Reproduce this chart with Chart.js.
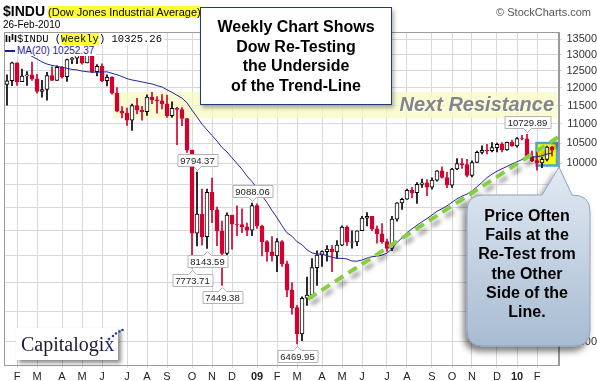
<!DOCTYPE html>
<html>
<head>
<meta charset="utf-8">
<script src="https://cdn.jsdelivr.net/npm/chart.js@4.4.1/dist/chart.umd.min.js"></script>
<style>
body { margin: 0; background: #fff; }
#wrap { position: relative; width: 597px; height: 381px; overflow: hidden; font-family: Arial, "Liberation Sans", sans-serif; }
#charts { position: absolute; left: 0; top: 0; }
.abs { position: absolute; white-space: nowrap; }
#sym { left: 3px; top: 3px; font-size: 11px; color: #000; }
#sym b { font-size: 14px; }
#sym span { background: #ffff33; }
#date { left: 3px; top: 19px; font-size: 10px; color: #000; }
#copy { right: 6px; top: 6px; font-size: 11px; color: #555; }
#leg1 { left: 5px; top: 33px; font: 10.5px "Liberation Mono", monospace; background: #fff; padding-right: 2px; line-height: 12px; }
#leg1 span { background: #ffff33; }
#leg2 { left: 5px; top: 45px; font-size: 10px; color: #1e1e9a; background: #fff; line-height: 11px; padding-right: 2px; }
#leg2 i { display: inline-block; width: 10px; height: 2px; background: #1e1e9a; vertical-align: middle; margin-right: 2px; }
#note { left: 200px; top: 7px; width: 192px; height: 98px; box-sizing: border-box; background: #fff; border: 1px solid #1e3b78; box-shadow: 2px 3px 4px rgba(0,0,0,0.3); font-weight: bold; font-size: 16px; text-align: center; line-height: 19.5px; padding-top: 9px; }
#callout { position: absolute; left: 0; top: 0; }
#calltext { left: 466px; top: 206px; width: 122px; text-align: center; font-weight: bold; font-size: 16px; line-height: 19.2px; color: #000; }
#logo { left: 16px; top: 328px; width: 102px; height: 32px; background: #fff; box-shadow: 3px 3px 4px rgba(0,0,0,0.45); font: 20px "Liberation Serif", "Times New Roman", serif; color: #1c1c2c; line-height: 32px; padding-left: 5px; box-sizing: border-box; }
#logo span { color: #1d2c6e; }
</style>
</head>
<body>
<div id="wrap">
<canvas id="charts" width="597" height="381"></canvas>
<div class="abs" id="sym"><b>$INDU</b> <span>(Dow Jones Industrial Average)</span></div>
<div class="abs" id="date">26-Feb-2010</div>
<div class="abs" id="copy">&copy; StockCharts.com</div>
<div class="abs" id="leg1"><svg width="12" height="9" style="vertical-align:-1px"><path d="M1.5 1v7M4.5 2v6M7.5 0v6M10.5 1v7" stroke="#000" stroke-width="1.6"/></svg>$INDU (<span>Weekly</span>) 10325.26</div>
<div class="abs" id="leg2"><i></i>MA(20) 10252.37</div>
<div class="abs" id="note">Weekly Chart Shows<br>Dow Re-Testing<br>the Underside<br>of the Trend-Line</div>
<svg id="callout" width="597" height="381">
  <defs>
    <linearGradient id="cg" x1="0" y1="0" x2="0" y2="1">
      <stop offset="0" stop-color="#e2eaf3"/>
      <stop offset="1" stop-color="#a7bbd1"/>
    </linearGradient>
    <filter id="csh" x="-30%" y="-20%" width="160%" height="150%">
      <feDropShadow dx="-3" dy="5" stdDeviation="3" flood-color="#000" flood-opacity="0.5"/>
    </filter>
  </defs>
  <path d="M483 195 H542 L559 167 L572 195 Q590 195 590 211 V330 Q590 346 574 346 H483 Q467 346 467 330 V211 Q467 195 483 195 Z" fill="url(#cg)" stroke="#8ea3bb" filter="url(#csh)"/>
</svg>
<div class="abs" id="calltext">Price Often<br>Fails at the<br>Re-Test from<br>the Other<br>Side of the<br>Line.</div>
<div class="abs" id="logo">Capitalogi<span>x</span><svg width="20" height="14" style="position:absolute;left:88px;top:0px"><circle cx="5" cy="11" r="1.3" fill="#2a3f9a"/><circle cx="9" cy="8" r="1.3" fill="#2a3f9a"/><circle cx="12" cy="5.5" r="1.3" fill="#2a3f9a"/><circle cx="15.5" cy="3.5" r="1.3" fill="#2a3f9a"/><circle cx="18.5" cy="2" r="1.3" fill="#2a3f9a"/></svg></div>
</div>
<script>
// weekly candles, Jan 25 2008 .. Feb 26 2010 (index = week number)
const opens = [12099,12207,12743,12182,12348,12381,12266,11894,11951,12361,12216,12609,12325,12849,12891,13058,12745,12986,12480,12638,12209,12307,11843,11346,11288,11100,11497,11370,11326,11734,11659,11628,11543,11220,11421,11388,11143,10325,8451,8852,8378,9325,8943,8497,8046,8829,8635,8629,8579,8515,9034,8599,8281,8077,8001,8280,7850,7366,7063,6627,7224,7279,7776,8018,8083,8131,8076,8212,8575,8268,8277,8500,8764,8799,8539,8438,8280,8146,8743,9093,9172,9370,9321,9505,9544,9441,9605,9820,9665,9488,9865,9996,9972,9713,10023,10270,10318,10310,10389,10471,10329,10520,10428,10618,10610,10173,10067,10013,10099,10402]
const highs = [12379,12767,12743,12552,12479,12767,12398,12219,12458,12622,12654,12641,12862,12917,13136,13090,13028,13028,12694,12712,12382,12330,12004,11470,11425,11541,11698,11475,11800,11867,11750,11808,11790,11600,11450,11440,11143,10325,9794.37,9400,9400,9654,9000,8700,8876,8829,9026,8960,8660,9088.06,9070,8620,8300,8380,8341,8300,7900,7500,7100,7250,7600,7950,8100,8100,8200,8200,8300,8600,8600,8500,8500,8800,8880,8800,8600,8650,8330,8800,9100,9200,9400,9440,9550,9630,9620,9660,9830,9917,9790,9880,10120,10120,10100,10060,10300,10435,10470,10516,10500,10516,10525,10580,10640,10700,10729.89,10300,10300,10150,10430,10420]
const lows = [11508,12060,12072,12181,12070,12216,11847,11731,11651,12216,12216,12285,12190,12720,12720,12705,12745,12450,12350,12182,12055,11820,11320,11158,10962,10827,11271,11100,11226,11550,11290,11405,11170,11170,10460,10950,10266,7773.71,8197,8210,8143.59,8670,8200,7449.38,8010,8130,8400,8460,8400,8400,8550,8000,7900,7900,7700,7800,7250,6950,6469.95,6520,7100,7230,7450,7800,7900,7700,7950,8200,8200,8150,8200,8500,8600,8500,8250,8250,8087,8100,8700,8950,9170,9200,9080,9440,9250,9400,9580,9650,9430,9440,9850,9880,9680,9680,10020,10230,10230,10280,10280,10280,10320,10420,10402,10580,10150,10040,9836,9900,10060,10180]
const closes = [12207,12743,12182,12348,12381,12266,11894,11951,12361,12216,12609,12325,12849,12891,13058,12745,12986,12480,12638,12209,12307,11843,11346,11288,11100,11497,11370,11326,11734,11659,11628,11543,11220,11421,11388,11143,10325,8451,8852,8378,9325,8943,8497,8046,8829,8635,8629,8579,8515,9034,8599,8281,8077,8001,8280,7850,7366,7063,6627,7224,7279,7776,8018,8083,8131,8076,8212,8575,8268,8277,8500,8764,8799,8539,8438,8280,8146,8743,9093,9172,9370,9321,9505,9544,9441,9605,9820,9665,9488,9865,9996,9972,9713,10023,10270,10318,10310,10389,10471,10329,10520,10428,10618,10610,10173,10067,10013,10099,10402,10325.26]
const ma20 = [13315,13280,13198,13121,13037,12945,12864,12771,12709,12668,12640,12607,12581,12544,12530,12495,12476,12460,12461,12467,12472,12427,12385,12332,12268,12230,12203,12172,12141,12113,12064,12025,11943,11870,11786,11706,11573,11372,11183,10991,10842,10697,10554,10392,10279,10136,9999,9861,9700,9569,9418,9255,9097,8926,8771,8606,8458,8389,8278,8220,8118,8059,8035,8037,8002,7974,7954,7953,7941,7903,7898,7922,7958,7985,7993,8015,8054,8138,8261,8358,8463,8540,8615,8688,8753,8830,8910,8965,9026,9105,9180,9240,9286,9360,9452,9554,9662,9744,9813,9871,9928,9984,10039,10093,10129,10152,10162,10184,10229,10252]

// x axis: week index of first week in each month
const monthIdx = [2,6,11,15,19,24,28,32,37,41,45,50,54,58,63,67,71,76,80,85,89,93,98,102,106]
const monthText = ['F','M','A','M','J','J','A','S','O','N','D','09','F','M','A','M','J','J','A','S','O','N','D','10','F']

// y axis
const yTicks = [6500,7000,7500,8000,8500,9000,9500,10000,10500,11000,11500,12000,12500,13000,13500]
const yTickLabels = [6500,10000,10500,11000,11500,12000,12500,13000,13500]

// swing high / low labels
const labelIdx = [38,37,40,43,49,58,104]
const labelVal = [9794.37,7773.71,8143.59,7449.38,9088.06,6469.95,10729.89]
const labelSide = ['above','below','below','below','above','below','above']

// annotations
const trendX = [60.2, 110.2]
const trendY = [7210, 10650]
const bandX = [21.2, 110]
const bandY = [11150, 11880]
const bandText = 'Next Resistance'
const boxX = [105.9, 110]
const boxY = [9950, 10504]

const red = '#d3002f'
const isUp = closes.map((c, i) => c >= opens[i])

const annot = {
    id: 'annot',
    beforeDatasetsDraw(chart)
    {
        const {ctx, scales: {x, y}} = chart
        ctx.save()
        // resistance band
        const bx1 = x.getPixelForValue(bandX[0]), bx2 = x.getPixelForValue(bandX[1])
        const by1 = y.getPixelForValue(bandY[1]), by2 = y.getPixelForValue(bandY[0])
        ctx.fillStyle = 'rgba(249,249,196,0.75)'
        ctx.fillRect(bx1, by1, bx2 - bx1, by2 - by1)
        ctx.font = 'italic bold 20px Arial'
        ctx.textAlign = 'right'
        ctx.textBaseline = 'middle'
        ctx.fillStyle = '#fff'
        ctx.fillText(bandText, bx2 - 2, (by1 + by2) / 2 + 1)
        ctx.fillStyle = '#858585'
        ctx.fillText(bandText, bx2 - 3, (by1 + by2) / 2)
        // highlight box
        const hx1 = x.getPixelForValue(boxX[0]), hx2 = x.getPixelForValue(boxX[1])
        const hy1 = y.getPixelForValue(boxY[1]), hy2 = y.getPixelForValue(boxY[0])
        ctx.fillStyle = '#ffff00'
        ctx.fillRect(hx1, hy1, hx2 - hx1, hy2 - hy1)
        ctx.strokeStyle = '#4aa6d6'
        ctx.lineWidth = 2.5
        ctx.strokeRect(hx1, hy1, hx2 - hx1, hy2 - hy1)
        ctx.restore()
    },
    beforeDatasetDraw(chart, args)
    {
        if (args.index === 3) {
            const ctx = chart.ctx
            ctx.save()
            ctx.shadowColor = 'rgba(0,0,0,0.4)'
            ctx.shadowBlur = 4
            ctx.shadowOffsetX = 3
            ctx.shadowOffsetY = 5
        }
    },
    afterDatasetDraw(chart, args)
    {
        if (args.index === 3) chart.ctx.restore()
    },
    afterDatasetsDraw(chart)
    {
        const {ctx, scales: {x, y}} = chart
        ctx.save()
        ctx.font = '9.5px Arial'
        ctx.textAlign = 'center'
        ctx.textBaseline = 'middle'
        labelVal.forEach((v, k) => {
            const px = Math.round(x.getPixelForValue(labelIdx[k])) + 0.5
            const py = y.getPixelForValue(v)
            const txt = v.toFixed(2)
            const w = Math.round(ctx.measureText(txt).width + 6), h = 12
            const up = labelSide[k] === 'above'
            const top = Math.round(up ? py - 6 - h : py + 6) + 0.5
            const left = Math.round(px - w / 2)
            ctx.beginPath()
            if (up) {
                ctx.moveTo(left, top)
                ctx.lineTo(left + w, top)
                ctx.lineTo(left + w, top + h)
                ctx.lineTo(px + 4, top + h)
                ctx.lineTo(px, top + h + 4)
                ctx.lineTo(px - 4, top + h)
                ctx.lineTo(left, top + h)
            } else {
                ctx.moveTo(left, top)
                ctx.lineTo(px - 4, top)
                ctx.lineTo(px, top - 4)
                ctx.lineTo(px + 4, top)
                ctx.lineTo(left + w, top)
                ctx.lineTo(left + w, top + h)
                ctx.lineTo(left, top + h)
            }
            ctx.closePath()
            ctx.fillStyle = '#fff'
            ctx.fill()
            ctx.strokeStyle = '#b4b4b4'
            ctx.lineWidth = 1
            ctx.stroke()
            ctx.fillStyle = '#222'
            ctx.fillText(txt, px, top + h / 2 + 0.5)
        })
        // plot frame
        const a = chart.chartArea
        ctx.strokeStyle = '#9a9a9a'
        ctx.strokeRect(a.left + 0.5, a.top + 0.5, a.right - a.left - 1, a.bottom - a.top)
        ctx.restore()
    }
}

function main()
{
    Chart.defaults.font.family = 'Arial, "Liberation Sans", sans-serif'
    const ctx = document.getElementById('charts').getContext('2d')

    new Chart(ctx, {
        type: 'bar',
        data: {
            datasets: [
                {
                    label: 'body',
                    data: closes.map((c, i) => ({x: i, y: [opens[i], c]})),
                    backgroundColor: isUp.map(u => u ? '#ffffff' : red),
                    borderColor: isUp.map(u => u ? '#000000' : red),
                    borderWidth: 1,
                    borderSkipped: false,
                    barThickness: 4,
                    grouped: false,
                    order: 2
                },
                {
                    label: 'wick',
                    data: highs.map((h, i) => ({x: i, y: [lows[i], h]})),
                    backgroundColor: isUp.map(u => u ? '#000000' : red),
                    barThickness: 1,
                    grouped: false,
                    order: 3
                },
                {
                    type: 'line',
                    label: 'MA(20)',
                    data: ma20.map((v, i) => ({x: i, y: v})),
                    borderColor: '#25259c',
                    borderWidth: 1,
                    pointRadius: 0,
                    tension: 0,
                    order: 1
                },
                {
                    type: 'line',
                    label: 'trend',
                    data: trendX.map((v, i) => ({x: v, y: trendY[i]})),
                    borderColor: '#86cf45',
                    borderWidth: 4,
                    borderDash: [10, 6],
                    pointRadius: 0,
                    order: 0
                }
            ]
        },
        options: {
            responsive: false,
            animation: false,
            layout: { padding: { left: 4, top: 32, right: 0, bottom: 0 } },
            plugins: { legend: { display: false }, tooltip: { enabled: false } },
            scales: {
                x: {
                    type: 'linear',
                    offset: false,
                    min: -0.6,
                    max: 110.4,
                    afterBuildTicks: s => { s.ticks = monthIdx.map(v => ({value: v})) },
                    afterFit: s => { s.height = 16; s.paddingLeft = 0; s.paddingRight = 0 },
                    grid: { color: '#d8d8d8', tickLength: 3, offset: false },
                    border: { color: '#9a9a9a' },
                    ticks: {
                        autoSkip: false,
                        maxRotation: 0,
                        padding: 2,
                        color: '#222',
                        callback: (v, i) => monthText[i],
                        font: c => ({ size: 11, weight: /\d/.test(monthText[c.index]) ? 'bold' : 'normal' })
                    }
                },
                y: {
                    type: 'logarithmic',
                    position: 'right',
                    min: 6149,
                    max: 13730,
                    afterBuildTicks: s => { s.ticks = yTicks.map(v => ({value: v})) },
                    afterFit: s => { s.width = 38; s.paddingTop = 0; s.paddingBottom = 0 },
                    grid: { color: '#d8d8d8', tickLength: 3 },
                    border: { color: '#9a9a9a' },
                    ticks: {
                        padding: 0,
                        crossAlign: 'far',
                        color: '#333',
                        font: { size: 11 },
                        callback: v => yTickLabels.includes(v) ? String(v) : ''
                    }
                }
            }
        },
        plugins: [annot]
    })
}

main()
</script>
</body>
</html>
